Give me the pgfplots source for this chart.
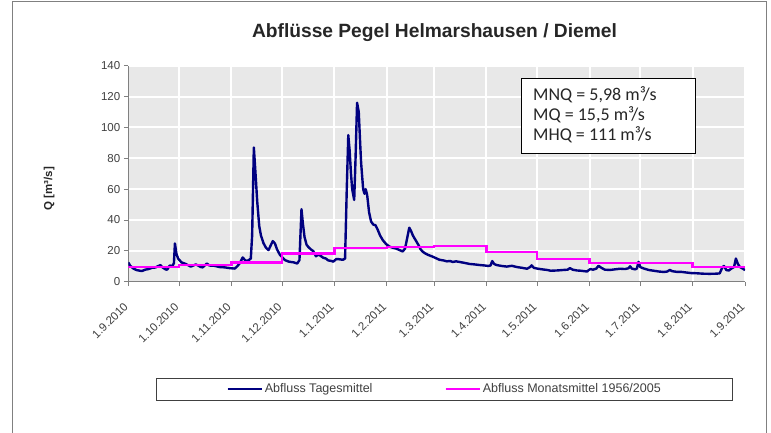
\documentclass[border=0pt]{standalone}
\usepackage{pgfplots}
\usepackage{pgfplotstable}
\usepackage{fontspec}
\pgfplotsset{compat=1.18}
\setmainfont{Liberation Sans}
\newfontfamily\calibri{Carlito}

\definecolor{plotbg}{RGB}{232,232,232}
\definecolor{tages}{RGB}{0,0,128}
\definecolor{monat}{RGB}{255,0,255}
\definecolor{axgray}{RGB}{128,128,128}

% Tagesmittel, Tag ab 1.9.2010
\pgfplotstableread{
day q
0 12.5
1 10.5
3 8.5
5 7.5
8 6.9
10 7.8
12 8.2
14 9.0
16 9.2
19 10.8
20 9.5
22 8.0
23 7.8
24.5 10.5
26 10.0
27 12
27.6 24.8
28.5 18
29.5 15
31.5 12.5
34 11.5
37 9.8
40 11.2
43 9.5
44 9.3
46.5 11.8
48 10.5
51 10.3
54 9.5
57 9.3
60 8.8
63 8.5
64.5 10.0
66 12
67.7 15.7
69.5 13.5
71 13.8
72.5 15.0
73.3 30
74.3 87
75.3 70
76.3 52
77.5 36
78.5 30
80 25
81.5 22
83 20.5
84.5 24
85.5 26.3
86.8 24.8
88 21
89.7 17.5
91 16
92.7 14
95 13
98 12.5
100 11.8
101.3 14
102.5 47
103.3 38
104.3 29
105.5 24
106.5 22.6
108 21
109.5 19.8
111 16.5
112.5 17.5
113.5 17
115.4 15.5
117 15
118.3 13.8
120 13.5
121.3 13
123 14.6
124.5 14.6
127 14.2
128.3 15
129.3 60
130.2 95
131 85
131.8 70
132.5 60
133.7 53
134.5 80
135.4 116
136.4 110
137.3 88
137.8 77
139 60
139.8 57
140.5 60
141.4 56
142.5 45
143.7 39
145 37
146.3 36.6
147.5 34
149 30
150.6 27
152.5 24.5
154.5 22.8
156.5 22
158.5 21.5
160.5 20.5
162.4 19.6
163.8 21.5
165 28
166.3 35
167.3 33
168.4 30
170 27
171.8 23.7
173 21
174.3 19.4
175.8 18.3
177.2 17.5
180.2 16.2
182 15.3
184.2 14.2
186.5 13.8
188.5 13.2
190.5 13.4
192 12.8
194 13.2
196 12.8
199 12.2
202 11.5
205 11.2
208 10.8
211 10.5
213 10.2
214.4 10.5
215.4 13.4
216.5 11.5
218 10.8
221 10.2
224 9.8
227 10.3
230 9.5
233 9.0
236 8.4
237.8 9.5
238.7 10.6
240 9.0
242 8.5
245 8.0
248 7.6
250 7.1
254 7.3
257.5 7.6
260 7.8
261.4 8.8
263 7.8
265.4 7.3
268 7.1
271.5 6.6
272.5 7.5
273.5 8.2
275 7.8
277 8.5
278.3 10.3
280 9.0
282 7.8
285 7.6
288 8.0
291 8.4
294 8.2
296 8.7
297 10.0
298 8.5
300 8.0
301 8.5
302 12.9
303 9.5
305 8.6
308 7.6
311 7.1
314 6.6
317 6.3
319 6.6
320.5 7.6
322 6.8
324.5 6.4
327 6.4
330 6.0
333 5.6
336 5.5
340 5.2
344 5.1
348 5.2
350 5.4
351.5 9.0
352.5 10.2
354 7.5
355.5 7.3
357 8.6
358.5 9.5
359.6 15.0
360.8 11.5
362 9.5
363.5 8.6
365 7.5
}\tagesdata

% Monatsmittel 1956/2005, Stufen zum Monatsbeginn
\pgfplotstableread{
day q
0 9.7
30 10.9
61 12.4
91 18.2
122 22.0
153 22.4
181 23.0
212 19.4
242 14.6
273 12.0
303 12.0
334 9.7
365 9.7
}\monatsdata

\begin{document}
\begin{tikzpicture}[x=1pt,y=1pt]
\useasboundingbox (0,0) rectangle (771,432);
\draw[axgray, line width=1pt] (12,-10) -- (12,430) -- (766,430) -- (766,-10);

\node[font=\bfseries\fontsize{19.2}{23}\selectfont, text=black!85] at (434.5,399) {Abflüsse Pegel Helmarshausen / Diemel};

\begin{axis}[
    at={(128.3pt,150.3pt)}, anchor=south west,
    scale only axis, width=616.7pt, height=216pt,
    xmin=0, xmax=365, ymin=0, ymax=140,
    axis background/.style={fill=plotbg},
    axis x line*=bottom, axis y line*=left,
    axis line style={axgray, line width=0.9pt},
    every tick/.style={axgray, line width=0.9pt},
    tick align=outside, major tick length=4.5pt,
    ytick={0,20,...,140},
    xtick={0,30,61,91,122,153,181,212,242,273,303,334,365},
    xticklabels={1.9.2010,1.10.2010,1.11.2010,1.12.2010,1.1.2011,1.2.2011,1.3.2011,1.4.2011,1.5.2011,1.6.2011,1.7.2011,1.8.2011,1.9.2011},
    /pgf/number format/assume math mode=true,
    yticklabel style={font=\fontsize{11.5}{13}\selectfont, text=black!75},
    xticklabel style={font=\fontsize{11.5}{13}\selectfont, text=black!75, rotate=45, anchor=east},
    xticklabel shift=16pt,
    grid=major,
    major grid style={white, line width=2pt},
    ylabel={\bfseries Q [m³/s]},
    ylabel style={font=\fontsize{11.5}{13}\selectfont, text=black!85, at={(axis description cs:-0.114,0.43)}, anchor=south},
    legend columns=2,
    legend image code/.code={\path (0pt,0pt) -- (34pt,0pt);\draw[#1, line width=1pt] (0pt,0pt) -- (31pt,0pt);},
    legend style={at={(axis description cs:0.0449,-0.4458)}, anchor=north west,
        draw=black!75, line width=0.8pt, inner xsep=70pt, inner ysep=3.5pt,
        font=\fontsize{12.5}{14}\selectfont, text=black!75,
        /tikz/every even column/.append style={column sep=70pt}},
]
\addplot[tages, line width=2.4pt, line join=round] table[x=day, y=q] {\tagesdata};
\addlegendentry{Abfluss Tagesmittel}
\addplot[monat, line width=2.4pt, const plot] table[x=day, y=q] {\monatsdata};
\addlegendentry{Abfluss Monatsmittel 1956/2005\hspace{15pt}}
\end{axis}

\draw[black, line width=1pt, fill=white] (521,353) rectangle (695,279);
\begin{scope}[every node/.style={anchor=west, inner sep=0pt, font=\calibri\fontsize{18}{21}\selectfont, text=black!85}]
\node at (533,337) {MNQ = 5,98 m³/s};
\node at (533,317) {MQ = 15,5 m³/s};
\node at (533,297.7) {MHQ = 111 m³/s};
\end{scope}
\end{tikzpicture}
\end{document}
